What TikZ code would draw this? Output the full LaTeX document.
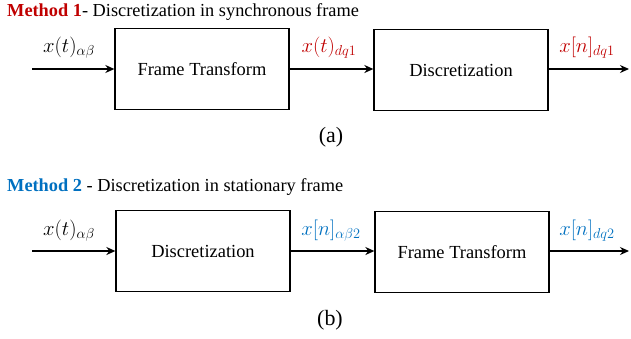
\documentclass[tikz,border=0pt]{standalone}
\usepackage{fontspec}
\setmainfont{Liberation Serif}
\usetikzlibrary{arrows.meta}
\definecolor{mred}{HTML}{C00000}
\definecolor{mblue}{HTML}{0070C0}
\begin{document}
\begin{tikzpicture}[x=1bp,y=-1bp,
  blk/.style={draw,line width=1.3pt,minimum width=174bp,minimum height=81bp,inner sep=0pt,font=\fontsize{18.5}{22}\selectfont},
  conn/.style={line width=1.3pt,-{Stealth[length=9bp,width=8bp]}},
  lbl/.style={font=\fontsize{20}{24}\selectfont,inner sep=0pt},
  ttl/.style={font=\fontsize{18.4}{22}\selectfont,anchor=west,inner sep=0pt},
  captext/.style={font=\fontsize{22}{26}\selectfont,inner sep=0pt}]
\useasboundingbox (0,0) rectangle (631,338);
% (a)
\node[ttl] (t1) at (7,12) {\textcolor{mred}{\textbf{Method 1}}- Discretization in synchronous frame};
\node[blk] (b1) at (202,69) {Frame Transform};
\node[blk] (b2) at (461,70) {Discretization};
\coordinate (i1) at (32,69);
\coordinate (o1) at (629,69);
\draw[conn] (i1) -- (b1.west |- i1);
\draw[conn] (b1.east |- i1) -- (b2.west |- i1);
\draw[conn] (b2.east |- i1) -- (o1);
\node[lbl] (l1) at (69,48) {$x(t)_{\alpha\beta}$};
\node[lbl,text=mred] (l2) at (329,48) {$x(t)_{dq1}$};
\node[lbl,text=mred] (l3) at (587,48) {$x[n]_{dq1}$};
\node[captext] (ca) at (331,137) {(a)};
% (b)
\node[ttl] (t2) at (7,187) {\textcolor{mblue}{\textbf{Method 2}} - Discretization in stationary frame};
\node[blk] (b3) at (203,251) {Discretization};
\node[blk] (b4) at (462,252) {Frame Transform};
\coordinate (i2) at (32,251);
\coordinate (o2) at (629,251);
\draw[conn] (i2) -- (b3.west |- i2);
\draw[conn] (b3.east |- i2) -- (b4.west |- i2);
\draw[conn] (b4.east |- i2) -- (o2);
\node[lbl] (l4) at (69,231) {$x(t)_{\alpha\beta}$};
\node[lbl,text=mblue] (l5) at (331,231) {$x[n]_{\alpha\beta2}$};
\node[lbl,text=mblue] (l6) at (587,231) {$x[n]_{dq2}$};
\node[captext] (cb) at (330,320) {(b)};
\end{tikzpicture}
\end{document}
